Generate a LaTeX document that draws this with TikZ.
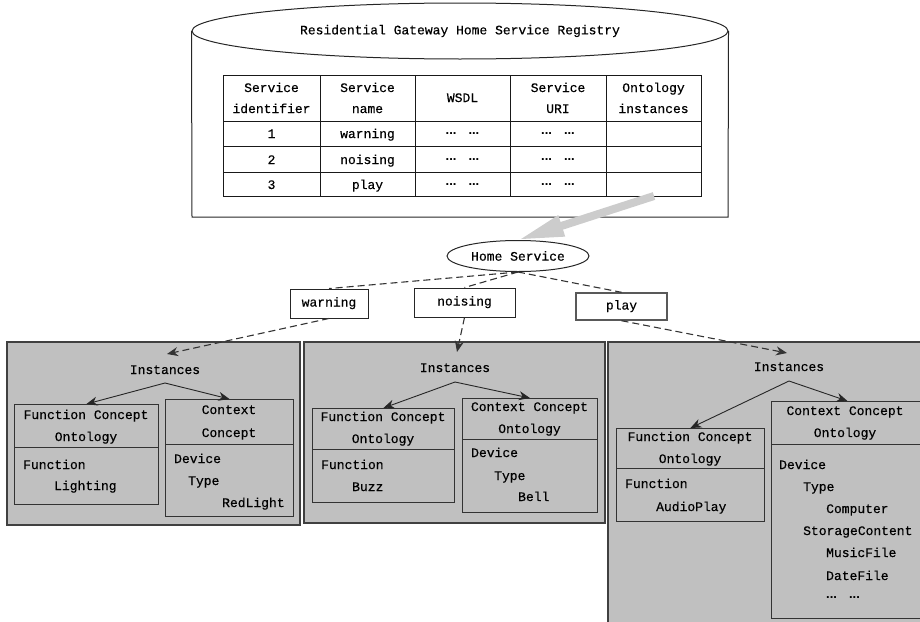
\documentclass[tikz,border=0pt]{standalone}
\usepackage{fontspec}
\setmainfont{Liberation Mono}[FakeBold=0.4]
\newfontfamily\dotfont{Liberation Sans Bold}
\usetikzlibrary{arrows.meta,shapes.geometric,calc}
\definecolor{panelgray}{HTML}{C0C0C0}
\definecolor{arrowgray}{HTML}{CCCCCC}
\newcommand\dts{{\dotfont ...\hspace{12pt}...}}
\begin{document}
\begin{tikzpicture}[x=1pt,y=-1pt,
  every node/.style={inner sep=0pt,font=\fontsize{13pt}{22pt}\selectfont},
  lbl/.style={anchor=base west},
  clbl/.style={anchor=base},
  cbox/.style={draw=black!80,line width=0.9pt,anchor=north west},
  divider/.style={draw=black!80,line width=0.9pt},
  panel/.style={draw=black!75,fill=panelgray,line width=1.2pt},
  fork/.style={draw=black!85,line width=0.9pt,-{Stealth[length=11pt,width=9pt]}},
  dashlink/.style={draw=black!80,line width=1.1pt,dash pattern=on 7pt off 4pt},
  dasharrow/.style={dashlink,-{Stealth[length=11pt,width=9pt]}},
  svcbox/.style={draw=black!85,line width=0.9pt,text height=9pt,text depth=3pt},
  grid/.style={draw=black!90,line width=0.8pt}
]
\useasboundingbox (0,0) rectangle (920,621);
\clip (0,0) rectangle (920,621);

% panels
\draw[panel] (7,342) rectangle (300,525);
\draw[panel] (304,342) rectangle (605,523);
\draw[panel] (608,342) rectangle (930,640);

% registry cylinder
\node[ellipse,draw=black!85,line width=1pt,minimum width=536,minimum height=56] (rg) at (460,31) {Residential Gateway Home Service Registry};
\coordinate (cylbl) at (192,217);
\coordinate (cylbr) at (728,217);
\draw[draw=black!85,line width=1pt] (rg.west) -- (cylbl) -- (cylbr) -- (rg.east);

% table
\draw[grid] (223,75) rectangle (701,196);
\foreach \x in {320,415,510,606} \draw[grid] (\x,75) -- (\x,196);
\foreach \y in {121,146,172} \draw[grid] (223,\y) -- (701,\y);
\node[clbl] (h1a) at (271.5,92) {Service};
\node[clbl] (h1b) at (271.5,113) {identifier};
\node[clbl] (h2a) at (367.5,92) {Service};
\node[clbl] (h2b) at (367.5,113) {name};
\node[clbl] (h3) at (462.5,102) {WSDL};
\node[clbl] (h4a) at (558,92) {Service};
\node[clbl] (h4b) at (558,113) {URI};
\node[clbl] (h5a) at (653.5,92) {Ontology};
\node[clbl] (h5b) at (653.5,113) {instances};
\node[clbl] (r1a) at (271.5,138) {1};
\node[clbl] (r1b) at (367.5,138) {warning};
\node[clbl] (r1c) at (462.5,134) {\dts};
\node[clbl] (r1d) at (558,134) {\dts};
\node[clbl] (r2a) at (271.5,164) {2};
\node[clbl] (r2b) at (367.5,164) {noising};
\node[clbl] (r2c) at (462.5,160) {\dts};
\node[clbl] (r2d) at (558,160) {\dts};
\node[clbl] (r3a) at (271.5,189) {3};
\node[clbl] (r3b) at (367.5,189) {play};
\node[clbl] (r3c) at (462.5,185) {\dts};
\node[clbl] (r3d) at (558,185) {\dts};

% home service and service boxes
\node[ellipse,draw=black!85,line width=1pt,minimum width=142,minimum height=31] (hs) at (518,256) {Home Service};
\coordinate (gstart) at (654,196);
\draw[draw=arrowgray,line width=8pt,-{Triangle[length=46pt,width=20pt]}] (gstart) -- (hs.north);

\node[svcbox,minimum width=78,minimum height=29] (w) at (329,303.5) {warning};
\node[svcbox,minimum width=101,minimum height=29] (n) at (464.5,302.5) {noising};
\node[svcbox,minimum width=91,minimum height=27,line width=1.4pt,draw=black!65] (p) at (621.5,306.5) {play};
\draw[dashlink] (hs.south) -- (w.north);
\draw[dashlink] (hs.south) -- (n.north);
\draw[dashlink] (hs.south) -- (p.north);

% panel 1
\node[clbl] (i1) at (165,374) {Instances};
\coordinate (k1) at (165,383);
\coordinate (t1) at (167,354);
\draw[dasharrow] (w.south) -- (t1);
\node[cbox,minimum width=144,minimum height=100] (f1) at (14,404) {};
\draw[divider] (14,447) -- (158,447);
\node[cbox,minimum width=128,minimum height=117] (c1) at (165,399) {};
\draw[divider] (165,444) -- (293,444);
\draw[fork] (k1) -- (f1.north);
\draw[fork] (k1) -- (c1.north);
\node[clbl] (f1a) at (86,419) {Function Concept};
\node[clbl] (f1b) at (86,441) {Ontology};
\node[lbl] (f1c) at (23,469) {Function};
\node[lbl] (f1d) at (54,490) {Lighting};
\node[clbl] (c1a) at (229,414) {Context};
\node[clbl] (c1b) at (229,437) {Concept};
\node[lbl] (c1c) at (174,463) {Device};
\node[lbl] (c1d) at (188,485) {Type};
\node[lbl] (c1e) at (222,507) {RedLight};

% panel 2
\node[clbl] (i2) at (455,372) {Instances};
\coordinate (k2) at (455,382);
\coordinate (t2) at (457,352);
\draw[dasharrow] (n.south) -- (t2);
\node[cbox,minimum width=142,minimum height=94] (f2) at (312,408) {};
\draw[divider] (312,449) -- (454,449);
\node[cbox,minimum width=135,minimum height=114] (c2) at (462,398) {};
\draw[divider] (462,439) -- (597,439);
\draw[fork] (k2) -- (f2.north);
\draw[fork] (k2) -- (c2.north);
\node[clbl] (f2a) at (383,421) {Function Concept};
\node[clbl] (f2b) at (383,443) {Ontology};
\node[lbl] (f2c) at (321,469) {Function};
\node[lbl] (f2d) at (352,491) {Buzz};
\node[clbl] (c2a) at (529.5,411) {Context Concept};
\node[clbl] (c2b) at (529.5,433) {Ontology};
\node[lbl] (c2c) at (471,457) {Device};
\node[lbl] (c2d) at (494,480) {Type};
\node[lbl] (c2e) at (518,501) {Bell};

% panel 3
\node[clbl] (i3) at (789,371) {Instances};
\coordinate (k3) at (789,381);
\coordinate (t3) at (787,353);
\draw[dasharrow] (p.south) -- (t3);
\node[cbox,minimum width=148,minimum height=93] (f3) at (616,428) {};
\draw[divider] (616,468) -- (764,468);
\node[cbox,minimum width=152,minimum height=217] (c3) at (771,401) {};
\draw[divider] (771,444) -- (923,444);
\draw[fork] (k3) -- (f3.north);
\draw[fork] (k3) -- (c3.north);
\node[clbl] (f3a) at (690,441) {Function Concept};
\node[clbl] (f3b) at (690,463) {Ontology};
\node[lbl] (f3c) at (625,488) {Function};
\node[lbl] (f3d) at (656,511) {AudioPlay};
\node[clbl] (c3a) at (845,415) {Context Concept};
\node[clbl] (c3b) at (845,437) {Ontology};
\node[lbl] (c3c) at (779,469) {Device};
\node[lbl] (c3d) at (803,491) {Type};
\node[lbl] (c3e) at (826,513) {Computer};
\node[lbl] (c3f) at (803,535) {StorageContent};
\node[lbl] (c3g) at (826,557) {MusicFile};
\node[lbl] (c3h) at (826,580) {DateFile};
\node[lbl] (c3i) at (826,598) {\dts};
\end{tikzpicture}
\end{document}
